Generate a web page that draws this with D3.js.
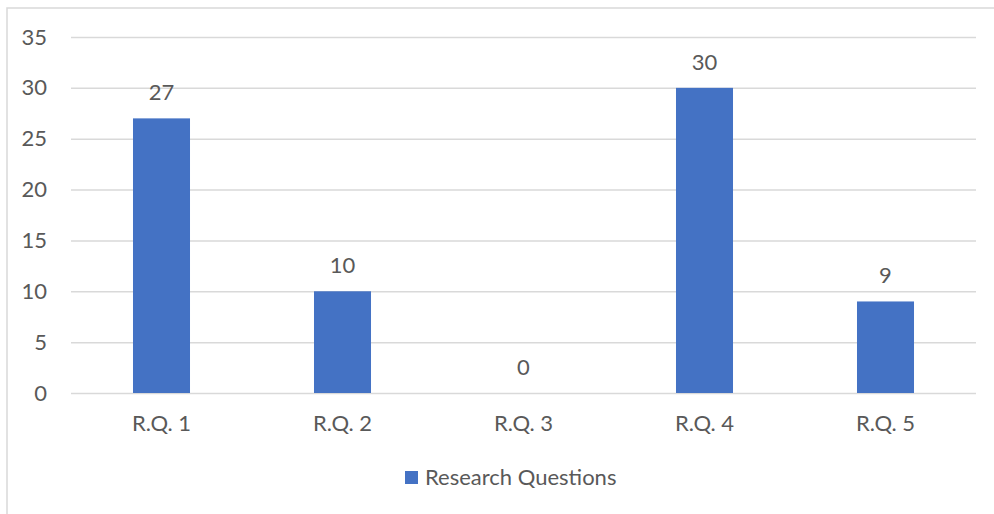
<!DOCTYPE html>
<html>
<head>
<meta charset="utf-8">
<script src="https://cdn.jsdelivr.net/npm/d3@7"></script>
<style>
  html, body { margin: 0; padding: 0; background: #fff; }
  svg { display: block; }
  text { font-family: Lato, "Noto Sans", sans-serif; fill: #595959; }
</style>
</head>
<body>
<svg id="chart" width="994" height="514"></svg>
<script>
const categories = ["R.Q. 1", "R.Q. 2", "R.Q. 3", "R.Q. 4", "R.Q. 5"];
const values = [27, 10, 0, 30, 9];
const yTicks = [0, 5, 10, 15, 20, 25, 30, 35];
const seriesName = "Research Questions";

const W = 994, H = 514;
const plot = { left: 71, right: 976, top: 37, bottom: 393 };
const barColor = "#4472C4";
const gridColor = "#d9d9d9";
const fontSize = 22;

const svg = d3.select("#chart");

// chart frame (extends past the right and bottom edges)
svg.append("rect")
  .attr("x", 7).attr("y", 8)
  .attr("width", W + 20).attr("height", H + 20)
  .attr("fill", "#fff")
  .attr("stroke", gridColor).attr("stroke-width", 1.5);

const x = d3.scaleBand()
  .domain(categories)
  .range([plot.left, plot.right])
  .paddingInner(0.685)
  .paddingOuter(0.3425);

const y = d3.scaleLinear().domain([0, 35]).range([plot.bottom, plot.top]);

// gridlines and value axis labels
const yAxis = d3.axisLeft(y)
  .tickValues(yTicks)
  .tickSize(-(plot.right - plot.left))
  .tickPadding(24);

const gy = svg.append("g")
  .attr("transform", `translate(${plot.left},0)`)
  .call(yAxis);
gy.select(".domain").remove();
gy.selectAll(".tick line").attr("stroke", gridColor).attr("stroke-width", 1.5);
gy.selectAll(".tick text")
  .attr("font-size", fontSize)
  .attr("fill", "#595959")
  .style("font-family", "Lato, 'Noto Sans', sans-serif");

// bars
svg.append("g").selectAll("rect")
  .data(values)
  .join("rect")
  .attr("x", (d, i) => x(categories[i]))
  .attr("y", d => y(d))
  .attr("width", x.bandwidth())
  .attr("height", d => y(0) - y(d))
  .attr("fill", barColor);

// value labels
svg.append("g").selectAll("text")
  .data(values)
  .join("text")
  .attr("x", (d, i) => x(categories[i]) + x.bandwidth() / 2)
  .attr("y", d => y(d) - 18)
  .attr("text-anchor", "middle")
  .attr("font-size", fontSize)
  .attr("fill", "#404040")
  .text(d => d);

// category axis labels
const xAxis = d3.axisBottom(x).tickSize(0).tickPadding(22);
const gx = svg.append("g")
  .attr("transform", `translate(0,${plot.bottom})`)
  .call(xAxis);
gx.select(".domain").remove();
gx.selectAll(".tick text")
  .attr("font-size", fontSize)
  .attr("fill", "#595959")
  .style("font-family", "Lato, 'Noto Sans', sans-serif");

// legend
const legend = svg.append("g").attr("transform", "translate(405,471)");
legend.append("rect").attr("width", 13).attr("height", 13).attr("fill", barColor);
legend.append("text")
  .attr("x", 20).attr("y", 14)
  .attr("font-size", fontSize)
  .text(seriesName);
</script>
</body>
</html>
